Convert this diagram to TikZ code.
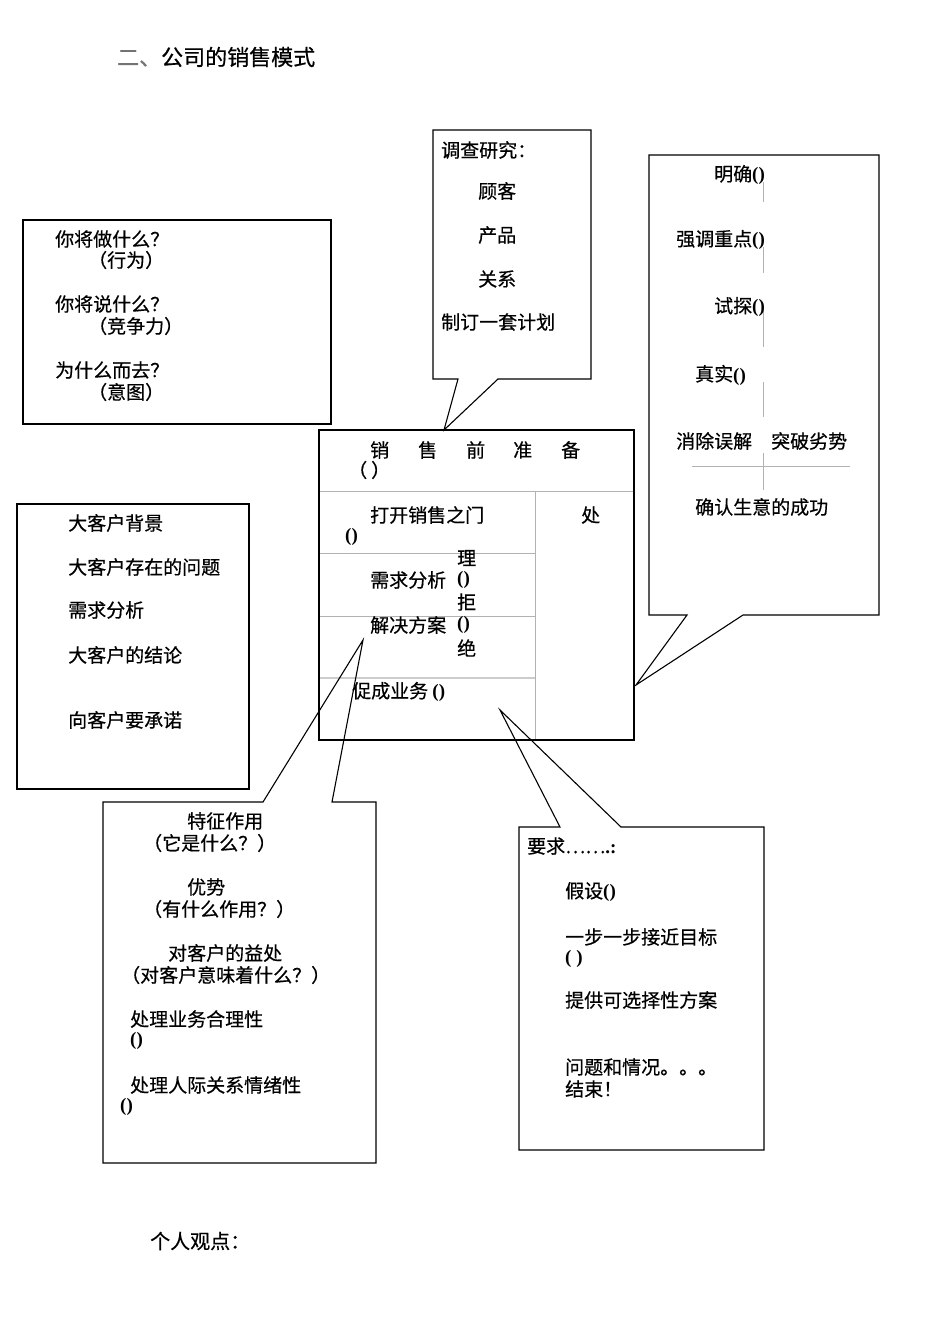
\documentclass[tikz,border=0pt]{standalone}
\usepackage{fontspec}
\setmainfont{Noto Sans CJK SC}[FakeBold=0.5]
\newfontfamily\lat{Liberation Serif}
\newcommand{\pp}{{\lat\bfseries()}}
\begin{document}
\begin{tikzpicture}[x=1pt,y=-1pt,
  txt/.style={anchor=west,inner sep=0pt,font=\fontsize{19}{21}\selectfont},
  edge/.style={draw=black,line width=1.1pt},
  grayline/.style={draw=black!30,line width=1pt}]
\useasboundingbox[fill=white] (0,0) rectangle (950,1344);

% title
\node[txt,font=\fontsize{22}{24}\selectfont] (title) at (117,57) {{\color{black!55}二、}公司的销售模式};

% left box 1
\draw[edge] (23,220) rectangle (331,424);
\node[txt] (a1) at (55,239) {你将做什么？};
\node[txt] (a2) at (88,260) {（行为）};
\node[txt] (a3) at (55,304) {你将说什么？};
\node[txt] (a4) at (88,326) {（竞争力）};
\node[txt] (a5) at (55,370) {为什么而去？};
\node[txt] (a6) at (88,392) {（意图）};

% left box 2
\draw[edge] (17,504) rectangle (249,789);
\node[txt] (b1) at (68,523) {大客户背景};
\node[txt] (b2) at (68,567) {大客户存在的问题};
\node[txt] (b3) at (68,610) {需求分析};
\node[txt] (b4) at (68,655) {大客户的结论};
\node[txt] (b5) at (68,720) {向客户要承诺};

% top callout
\coordinate (ttip) at (444,430);
\draw[edge,line join=miter] (498,379) -- (591,379) -- (591,130) -- (433,130) -- (433,379) -- (458,379) -- (ttip) -- cycle;
\node[txt] (t1) at (441,150) {调查研究：};
\node[txt] (t2) at (478,191) {顾客};
\node[txt] (t3) at (478,235) {产品};
\node[txt] (t4) at (478,279) {关系};
\node[txt] (t5) at (441,322) {制订一套计划};

% right callout
\coordinate (rtip) at (636,685);
\draw[edge] (687,615) -- (649,615) -- (649,155) -- (879,155) -- (879,615) -- (743,615) -- (rtip) -- cycle;
\draw[grayline] (763,182) -- (763,202);
\draw[grayline] (763,247) -- (763,273);
\draw[grayline] (763,310) -- (763,347);
\draw[grayline] (763,382) -- (763,417);
\draw[grayline] (763,453) -- (763,490);
\draw[grayline] (692,466) -- (850,466);
\node[txt] (r1) at (714,175) {明确\pp};
\node[txt] (r2) at (676,240) {强调重点\pp};
\node[txt] (r3) at (714,307) {试探\pp};
\node[txt] (r4) at (695,375) {真实\pp};
\node[txt] (r5) at (676,441) {消除误解};
\node[txt] (r6) at (771,441) {突破劣势};
\node[txt] (r7) at (695,507) {确认生意的成功};

% center box
\draw[grayline] (319,491) -- (634,491);
\draw[grayline] (535,491) -- (535,740);
\draw[grayline] (319,553) -- (535,553);
\draw[grayline] (319,616) -- (535,616);
\draw[draw=black!20,line width=2pt] (319,678) -- (535,678);
\draw[edge] (319,430) rectangle (634,740);
\node[txt] (c1) at (370,450) {销};
\node[txt] (c2) at (418,450) {售};
\node[txt] (c3) at (466,450) {前};
\node[txt] (c4) at (513,450) {准};
\node[txt] (c5) at (561,450) {备};
\node[txt] (c6) at (348,470) {（\hspace{4pt}）};
\node[txt] (c7) at (370,515) {打开销售之门};
\node[txt] (c8) at (345,537) {\pp};
\node[txt] (c9) at (370,580) {需求分析};
\node[txt] (c10) at (370,625) {解决方案};
\node[txt] (c11) at (457,558) {理};
\node[txt] (c12) at (457,580) {\pp};
\node[txt] (c13) at (457,602) {拒};
\node[txt] (c14) at (457,625) {\pp};
\node[txt] (c15) at (457,648) {绝};
\node[txt] (c16) at (352,692) {促成业务 \pp};
\node[txt] (c17) at (581,515) {处};

% lower-left callout
\coordinate (ltip) at (363,640);
\draw[edge] (263,802) -- (103,802) -- (103,1163) -- (376,1163) -- (376,802) -- (332,802) -- (ltip) -- cycle;
\node[txt] (l1) at (187,821) {特征作用};
\node[txt] (l2) at (143,843) {（它是什么？）};
\node[txt] (l3) at (187,887) {优势};
\node[txt] (l4) at (143,909) {（有什么作用？）};
\node[txt] (l5) at (168,953) {对客户的益处};
\node[txt] (l6) at (121,975) {（对客户意味着什么？）};
\node[txt] (l7) at (130,1019) {处理业务合理性};
\node[txt] (l8) at (130,1041) {\pp};
\node[txt] (l9) at (130,1085) {处理人际关系情绪性};
\node[txt] (l10) at (120,1107) {\pp};

% lower-right callout
\coordinate (btip) at (500,710);
\draw[edge] (560,827) -- (519,827) -- (519,1150) -- (764,1150) -- (764,827) -- (621,827) -- (btip) -- cycle;
\node[txt] (m1) at (527,846) {要求……{\lat\bfseries.:}};
\node[txt] (m2) at (565,892) {假设\pp};
\node[txt] (m3) at (565,937) {一步一步接近目标};
\node[txt] (m4) at (565,959) {{\lat\bfseries( )}};
\node[txt] (m5) at (565,1000) {提供可选择性方案};
\node[txt] (m6) at (565,1067) {问题和情况。。。};
\node[txt] (m7) at (565,1089) {结束！};

% bottom
\node[txt,font=\fontsize{20}{22}\selectfont] (p) at (150,1241) {个人观点：};
\end{tikzpicture}
\end{document}
